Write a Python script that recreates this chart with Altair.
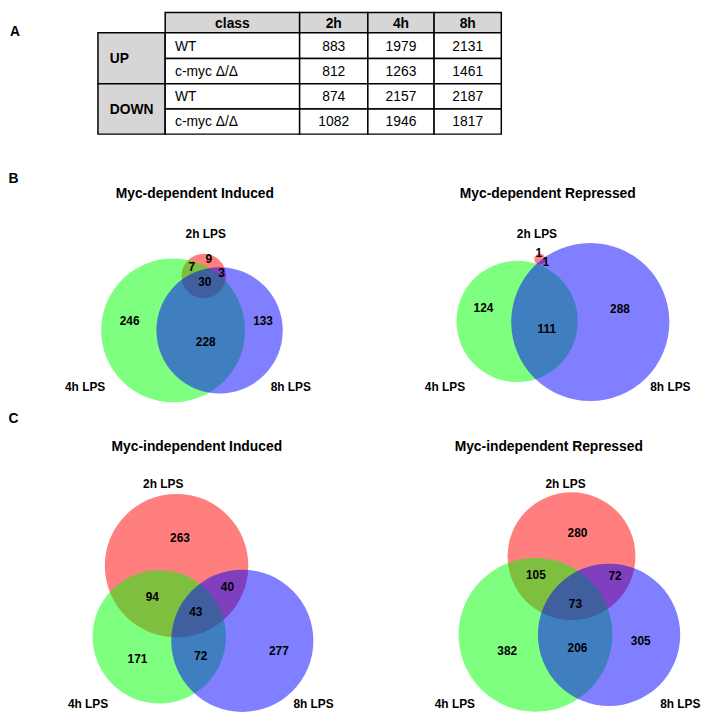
import altair as alt
import pandas as pd
import numpy as np

# ---------------- data ----------------
# Panel A table
time_cols = ["2h", "4h", "8h"]
groups = ["UP", "DOWN"]
classes = ["WT", "c-myc Δ/Δ", "WT", "c-myc Δ/Δ"]
counts_2h = [883, 812, 874, 1082]
counts_4h = [1979, 1263, 2157, 1946]
counts_8h = [2131, 1461, 2187, 1817]

# Venn region counts (order of regions list)
regions = ["2h", "4h", "8h", "2h&4h", "2h&8h", "4h&8h", "2h&4h&8h"]
dep_induced = [9, 246, 133, 7, 3, 228, 30]
dep_repressed = [1, 124, 288, 0, 1, 111, 0]
indep_induced = [263, 171, 277, 94, 40, 72, 43]
indep_repressed = [280, 382, 305, 105, 72, 206, 73]
panel_titles = ["Myc-dependent Induced", "Myc-dependent Repressed",
                "Myc-independent Induced", "Myc-independent Repressed"]
set_keys = ["2h", "4h", "8h"]
set_names = ["2h LPS", "4h LPS", "8h LPS"]
panel_letters = ["A", "B", "C"]

# ---------------- layout (pixel positions, image coordinates) ----------------
OFF = 8
TABLE_X = [99, 167, 303, 372, 439, 507]
TABLE_Y = [8.5, 29, 55, 80.5, 106, 131.5]
LETTER_POS = [(10, 28), (8.5, 177), (8.5, 420)]
SET_COLORS = ["#ff0000", "#00ff00", "#0000ff"]

venn_layout = [
    dict(k=3.22, centers=[(206, 275), (175, 330), (222, 330)],
         title=(197, 192), labels=[(208, 233), (86, 387), (294, 387)],
         rpos=[(211, 258), (131, 321), (266, 321), (194, 266), (224, 272), (208, 342), (207, 281)]),
    dict(k=4.0, centers=[(546, 258), (523, 321), (597, 321.5)],
         title=(554, 192), labels=[(543, 233), (450, 387), (678, 387)],
         rpos=[(545, 252), (489, 307), (627, 308), (0, 0), (552, 261), (553, 329), (0, 0)]),
    dict(k=3.46, centers=[(178.5, 568), (161, 640), (245, 644)],
         title=(199, 448), labels=[(165, 485), (89, 708), (317, 708)],
         rpos=[(182, 540), (139, 662), (282, 654), (154, 600), (230, 590), (203, 659), (198, 615)]),
    dict(k=2.81, centers=[(578, 558.5), (541.5, 638), (616, 638)],
         title=(555, 448), labels=[(572, 485), (460, 708), (688, 708)],
         rpos=[(584, 535), (513, 654), (648, 644), (542, 577), (622, 579), (584, 651), (582, 607)]),
]
venn_counts = [dep_induced, dep_repressed, indep_induced, indep_repressed]

# ---------------- build tables ----------------
cells = []
bold_c, bold_l, norm_c, norm_l = [], [], [], []

def add(lst, x, y, text, size):
    lst.append(dict(x=x - OFF, y=y - OFF, text=str(text), fs=size))

GRAY = "#d6d6d6"
# header row
for ci in range(1, 5):
    cells.append(dict(x=TABLE_X[ci] - OFF, x2=TABLE_X[ci + 1] - OFF,
                      y=TABLE_Y[0] - OFF, y2=TABLE_Y[1] - OFF, fill=GRAY))
    label = "class" if ci == 1 else time_cols[ci - 2]
    add(bold_c, (TABLE_X[ci] + TABLE_X[ci + 1]) / 2, (TABLE_Y[0] + TABLE_Y[1]) / 2 + 1, label, 14)
# group header cells
for gi, g in enumerate(groups):
    y0, y1 = TABLE_Y[1 + 2 * gi], TABLE_Y[3 + 2 * gi]
    cells.append(dict(x=TABLE_X[0] - OFF, x2=TABLE_X[1] - OFF, y=y0 - OFF, y2=y1 - OFF, fill=GRAY))
    add(bold_l, TABLE_X[0] + 12, (y0 + y1) / 2 + 1, g, 14)
# body
vals = [counts_2h, counts_4h, counts_8h]
for ri in range(4):
    y0, y1 = TABLE_Y[ri + 1], TABLE_Y[ri + 2]
    cy = (y0 + y1) / 2 + 1
    cells.append(dict(x=TABLE_X[1] - OFF, x2=TABLE_X[2] - OFF, y=y0 - OFF, y2=y1 - OFF, fill="#ffffff"))
    add(norm_l, TABLE_X[1] + 10, cy, classes[ri], 14)
    for ti in range(3):
        cells.append(dict(x=TABLE_X[ti + 2] - OFF, x2=TABLE_X[ti + 3] - OFF,
                          y=y0 - OFF, y2=y1 - OFF, fill="#ffffff"))
        add(norm_c, (TABLE_X[ti + 2] + TABLE_X[ti + 3]) / 2, cy, vals[ti][ri], 14)

# panel letters
for L, (lx, ly) in zip(panel_letters, LETTER_POS):
    add(bold_l, lx, ly, L, 14)

# venn circles and labels
circles = []
order = 0
for pi, (lay, cnts) in enumerate(zip(venn_layout, venn_counts)):
    add(bold_c, lay["title"][0], lay["title"][1], panel_titles[pi], 14)
    for si, s in enumerate(set_keys):
        total = sum(c for r, c in zip(regions, cnts) if s in r.split("&"))
        rad = lay["k"] * np.sqrt(total)
        cx, cy = lay["centers"][si]
        circles.append(dict(x=cx - OFF, y=cy - OFF, size=(2 * rad) ** 2,
                            color=SET_COLORS[si], ord=order))
        order += 1
        add(bold_c, lay["labels"][si][0], lay["labels"][si][1], set_names[si], 12)
    for ri, (r, c) in enumerate(zip(regions, cnts)):
        if c > 0:
            add(bold_c, lay["rpos"][ri][0], lay["rpos"][ri][1], c, 12)

df_cells = pd.DataFrame(cells)
df_circ = pd.DataFrame(circles)

X = lambda: alt.X("x:Q", scale=None, axis=None)
Y = lambda: alt.Y("y:Q", scale=None, axis=None)

rects = alt.Chart(df_cells).mark_rect(stroke="black", strokeWidth=1.5).encode(
    x=X(), x2="x2:Q", y=Y(), y2="y2:Q", fill=alt.Fill("fill:N", scale=None))

circ = alt.Chart(df_circ).mark_circle(opacity=0.5, stroke=None).encode(
    x=X(), y=Y(), size=alt.Size("size:Q", scale=None, legend=None),
    color=alt.Color("color:N", scale=None), order=alt.Order("ord:Q"))

def text_layer(rows, weight, align):
    return alt.Chart(pd.DataFrame(rows)).mark_text(
        font="Liberation Sans", fontWeight=weight, align=align, baseline="middle",
        color="black").encode(x=X(), y=Y(), text="text:N",
                              size=alt.Size("fs:Q", scale=None, legend=None))

chart = alt.layer(
    rects, circ,
    text_layer(bold_c, "bold", "center"),
    text_layer(bold_l, "bold", "left"),
    text_layer(norm_c, "normal", "center"),
    text_layer(norm_l, "normal", "left"),
).properties(
    width=701, height=708, padding=0,
    autosize=alt.AutoSizeParams(type="none"),
).configure_view(stroke=None)

chart.save("out.html", embed_options={"renderer": "svg", "actions": False})
